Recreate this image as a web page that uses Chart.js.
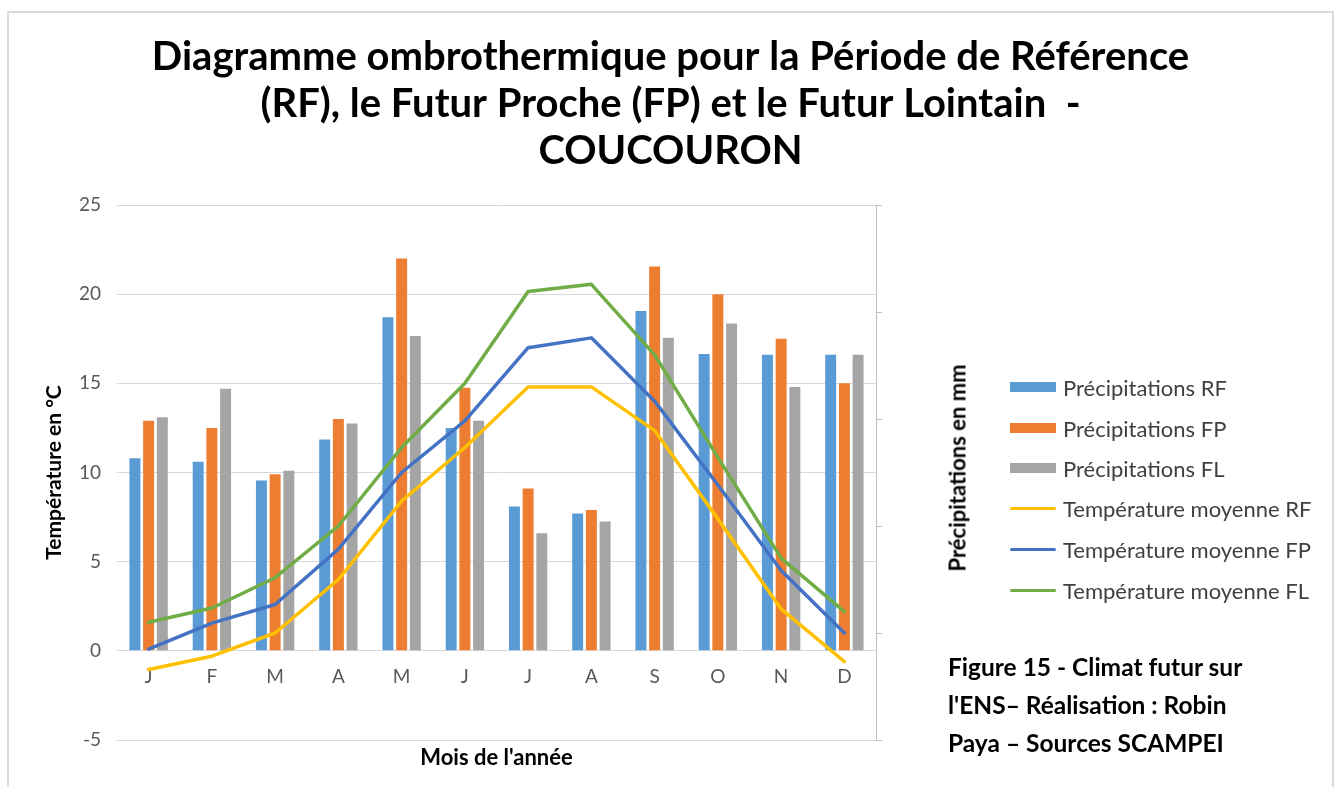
<!DOCTYPE html>
<html lang="fr">
<head>
<meta charset="utf-8">
<title>Diagramme ombrothermique - COUCOURON</title>
<script src="https://cdn.jsdelivr.net/npm/chart.js@4.4.1/dist/chart.umd.min.js"></script>
<style>
  html, body { margin: 0; padding: 0; background: #ffffff; overflow: hidden; }
  #wrap { position: relative; width: 1341px; height: 787px; }
  #frame { position: absolute; left: 7px; top: 11px; width: 1327px; height: 820px; border: 2px solid #d9d9d9; box-sizing: border-box; }
  canvas { position: absolute; left: 0; top: 0; }
  .legend-row { position: absolute; left: 1010px; height: 26px; display: flex; align-items: center; font-family: Lato, "Open Sans", sans-serif; font-size: 22px; color: #404040; white-space: nowrap; }
  .sw { display: inline-block; width: 46px; margin-right: 7px; }
  .sw.bar { height: 10px; }
  .sw.line { height: 3px; border-radius: 2px; }
  #rtitle { position: absolute; left: 957px; top: 468px; transform: translate(-50%, -50%) rotate(-90deg); font-family: Lato, "Open Sans", sans-serif; font-weight: bold; font-size: 22px; color: #000; white-space: nowrap; }
  #note { position: absolute; left: 948px; top: 648px; font-family: Lato, "Open Sans", sans-serif; font-weight: bold; font-size: 24.5px; line-height: 38px; color: #000; white-space: nowrap; }
</style>
</head>
<body>
<div id="wrap">
  <div id="frame"></div>
  <canvas id="c" width="1341" height="787"></canvas>
  <div id="legend"></div>
  <div id="rtitle">Précipitations en mm</div>
  <div id="note">Figure 15 - Climat futur sur<br>l'ENS– Réalisation : Robin<br>Paya – Sources SCAMPEI</div>
</div>
<script>
// ---- Data ----
const months = ['J', 'F', 'M', 'A', 'M', 'J', 'J', 'A', 'S', 'O', 'N', 'D'];

// Precipitation bars (in the units of the left-hand scale, as drawn)
const precipRF = [10.8, 10.6, 9.55, 11.85, 18.7, 12.5, 8.1, 7.7, 19.05, 16.65, 16.6, 16.6];
const precipFP = [12.9, 12.5, 9.9, 13.0, 22.0, 14.75, 9.1, 7.9, 21.55, 20.0, 17.5, 15.0];
const precipFL = [13.1, 14.7, 10.1, 12.75, 17.65, 12.9, 6.6, 7.25, 17.55, 18.35, 14.8, 16.6];

// Mean temperatures (°C)
const tempRF = [-1.05, -0.3, 1.0, 4.0, 8.4, 11.4, 14.8, 14.8, 12.35, 7.4, 2.35, -0.6];
const tempFP = [0.1, 1.55, 2.6, 5.7, 10.0, 12.9, 17.0, 17.55, 14.0, 9.3, 4.5, 1.0];
const tempFL = [1.6, 2.4, 4.1, 7.0, 11.4, 15.0, 20.15, 20.55, 16.6, 10.85, 5.2, 2.2];

const seriesNames = [
  'Précipitations RF', 'Précipitations FP', 'Précipitations FL',
  'Température moyenne RF', 'Température moyenne FP', 'Température moyenne FL'
];
const titleLines = [
  'Diagramme ombrothermique pour la Période de Référence',
  '(RF), le Futur Proche (FP) et le Futur Lointain  -',
  'COUCOURON'
];
const tempTicks = { min: -5, max: 25, step: 5 };

// ---- Styles ----
const colors = ['#5B9BD5', '#ED7D31', '#A5A5A5', '#FFC000', '#4472C4', '#70AD47'];
const FONT = 'Lato, "Open Sans", sans-serif';

// Legend (HTML)
const legendTops = [374, 415, 455, 495, 536, 577];
const legendEl = document.getElementById('legend');
seriesNames.forEach((name, i) => {
  const row = document.createElement('div');
  row.className = 'legend-row';
  row.style.top = legendTops[i] + 'px';
  const sw = document.createElement('span');
  sw.className = 'sw ' + (i < 3 ? 'bar' : 'line');
  sw.style.background = colors[i];
  row.appendChild(sw);
  row.appendChild(document.createTextNode(name));
  legendEl.appendChild(row);
});

const barCommon = { type: 'bar', order: 2, categoryPercentage: 0.65, barPercentage: 0.8, xAxisID: 'x', yAxisID: 'y', borderWidth: 0 };
const lineCommon = { type: 'line', order: 1, borderWidth: 3.5, pointRadius: 0, tension: 0, fill: false, xAxisID: 'x', yAxisID: 'y', borderCapStyle: 'round', borderJoinStyle: 'round' };

new Chart(document.getElementById('c'), {
  data: {
    labels: months,
    datasets: [
      { ...barCommon, label: seriesNames[0], data: precipRF, backgroundColor: colors[0] },
      { ...barCommon, label: seriesNames[1], data: precipFP, backgroundColor: colors[1] },
      { ...barCommon, label: seriesNames[2], data: precipFL, backgroundColor: colors[2] },
      { ...lineCommon, label: seriesNames[3], data: tempRF, borderColor: colors[3], backgroundColor: colors[3] },
      { ...lineCommon, label: seriesNames[4], data: tempFP, borderColor: colors[4], backgroundColor: colors[4] },
      { ...lineCommon, label: seriesNames[5], data: tempFL, borderColor: colors[5], backgroundColor: colors[5] }
    ]
  },
  options: {
    responsive: false,
    animation: false,
    layout: { padding: 0 },
    plugins: {
      legend: { display: false },
      tooltip: { enabled: false },
      title: {
        display: true,
        text: titleLines,
        color: '#000000',
        font: { family: FONT, size: 40, weight: 'bold', lineHeight: 1.175 },
        padding: { top: 34, bottom: 30 }
      }
    },
    scales: {
      x: {
        type: 'category',
        position: { y: 0 },
        grid: { display: false, drawTicks: false },
        border: { display: true, color: '#d9d9d9', width: 1 },
        ticks: { color: '#595959', font: { family: FONT, size: 19 }, padding: 15, maxRotation: 0, autoSkip: false }
      },
      xb: {
        type: 'category',
        labels: months,
        position: 'bottom',
        grid: { display: false, drawTicks: false },
        border: { display: false },
        ticks: { display: false },
        title: { display: true, text: "Mois de l'année", color: '#000000', font: { family: FONT, size: 22, weight: 'bold' }, padding: { top: 0, bottom: 16 } },
        afterFit(s) { s.height = 47; }
      },
      y: {
        position: 'left',
        min: tempTicks.min,
        max: tempTicks.max,
        ticks: { stepSize: tempTicks.step, color: '#595959', font: { family: FONT, size: 19 }, padding: 16 },
        grid: { color: '#d9d9d9', drawTicks: false, lineWidth: 1 },
        border: { display: false },
        title: { display: true, text: 'Température en °C', color: '#000000', font: { family: FONT, size: 21, weight: 'bold' }, padding: { top: 42, bottom: 0 } },
        afterFit(s) { s.width = 117; }
      },
      y2: {
        position: 'right',
        min: tempTicks.min,
        max: tempTicks.max,
        ticks: { display: false, count: 6 },
        grid: { drawOnChartArea: false, drawTicks: true, tickLength: 6, color: '#bfbfbf' },
        border: { display: true, color: '#bfbfbf', width: 1 },
        afterFit(s) { s.width = 1341 - 876; }
      }
    }
  }
});
</script>
</body>
</html>
